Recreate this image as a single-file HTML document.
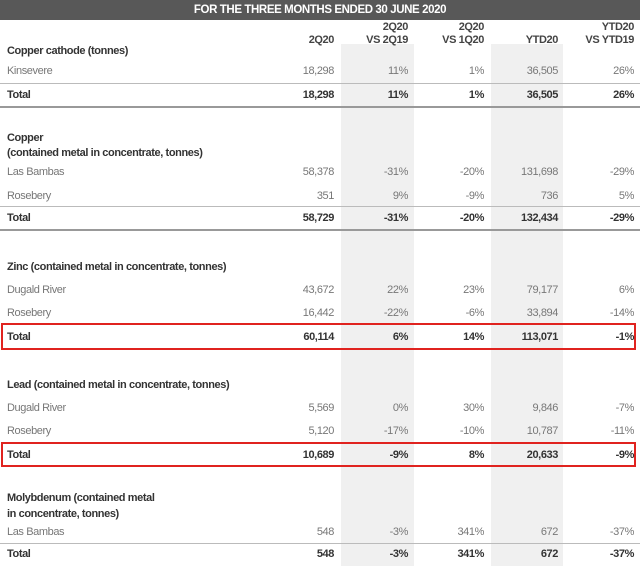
<!DOCTYPE html>
<html><head><meta charset="utf-8"><style>
body{margin:0;width:640px;height:566px;background:#fff;position:relative;overflow:hidden;font-family:"Liberation Sans",sans-serif;font-size:11px;color:#333;letter-spacing:-0.4px}
.hdr{position:absolute;left:0;top:0;width:640px;height:20px;background:#585858;color:#fff;font-weight:bold;text-align:center;line-height:20px;font-size:11.5px}
.sh{position:absolute;top:44px;height:522px;background:#f0f0f0}
.r{position:absolute;left:0;width:640px;height:14px;line-height:14px}
.r span{position:absolute;top:0;white-space:nowrap}
.l{left:7px}
.c1{right:306px}.c2{right:232px}.c3{right:156px}.c4{right:82px}.c5{right:6px}
.g{color:#777;font-weight:normal}
.b{font-weight:bold;color:#333}
.t{font-weight:bold;color:#333}
.ln{position:absolute;left:0;width:640px;height:1px;background:#bbb}
.box{position:absolute;left:1px;width:635px;border:2px solid #e0231f;box-sizing:border-box}
.h{position:absolute;font-weight:bold;color:#444;text-align:right;line-height:13px}
</style></head><body>
<div class="sh" style="left:341px;width:73px"></div>
<div class="sh" style="left:491px;width:72px"></div>
<div class="hdr">FOR THE THREE MONTHS ENDED 30 JUNE 2020</div>
<div class="h" style="right:306px;top:34px">2Q20</div>
<div class="h" style="right:232px;top:21px">2Q20<br>VS 2Q19</div>
<div class="h" style="right:156px;top:21px">2Q20<br>VS 1Q20</div>
<div class="h" style="right:82px;top:34px">YTD20</div>
<div class="h" style="right:6px;top:21px">YTD20<br>VS YTD19</div>

<div class="r t" style="top:44px"><span class="l">Copper cathode (tonnes)</span></div>
<div class="r g" style="top:64px"><span class="l">Kinsevere</span><span class="c1">18,298</span><span class="c2">11%</span><span class="c3">1%</span><span class="c4">36,505</span><span class="c5">26%</span></div>
<div class="ln" style="top:83px"></div>
<div class="r b" style="top:88px"><span class="l">Total</span><span class="c1">18,298</span><span class="c2">11%</span><span class="c3">1%</span><span class="c4">36,505</span><span class="c5">26%</span></div>
<div class="ln" style="top:106px;height:2px;background:#999"></div>

<div class="r t" style="top:131px"><span class="l">Copper</span></div>
<div class="r t" style="top:146px"><span class="l">(contained metal in concentrate, tonnes)</span></div>
<div class="r g" style="top:165px"><span class="l">Las Bambas</span><span class="c1">58,378</span><span class="c2">-31%</span><span class="c3">-20%</span><span class="c4">131,698</span><span class="c5">-29%</span></div>
<div class="r g" style="top:189px"><span class="l">Rosebery</span><span class="c1">351</span><span class="c2">9%</span><span class="c3">-9%</span><span class="c4">736</span><span class="c5">5%</span></div>
<div class="ln" style="top:206px"></div>
<div class="r b" style="top:211px"><span class="l">Total</span><span class="c1">58,729</span><span class="c2">-31%</span><span class="c3">-20%</span><span class="c4">132,434</span><span class="c5">-29%</span></div>
<div class="ln" style="top:229px;height:2px;background:#999"></div>

<div class="r t" style="top:260px"><span class="l">Zinc (contained metal in concentrate, tonnes)</span></div>
<div class="r g" style="top:283px"><span class="l">Dugald River</span><span class="c1">43,672</span><span class="c2">22%</span><span class="c3">23%</span><span class="c4">79,177</span><span class="c5">6%</span></div>
<div class="r g" style="top:306px"><span class="l">Rosebery</span><span class="c1">16,442</span><span class="c2">-22%</span><span class="c3">-6%</span><span class="c4">33,894</span><span class="c5">-14%</span></div>
<div class="box" style="top:323px;height:27px"></div>
<div class="r b" style="top:330px"><span class="l">Total</span><span class="c1">60,114</span><span class="c2">6%</span><span class="c3">14%</span><span class="c4">113,071</span><span class="c5">-1%</span></div>

<div class="r t" style="top:378px"><span class="l">Lead (contained metal in concentrate, tonnes)</span></div>
<div class="r g" style="top:401px"><span class="l">Dugald River</span><span class="c1">5,569</span><span class="c2">0%</span><span class="c3">30%</span><span class="c4">9,846</span><span class="c5">-7%</span></div>
<div class="r g" style="top:424px"><span class="l">Rosebery</span><span class="c1">5,120</span><span class="c2">-17%</span><span class="c3">-10%</span><span class="c4">10,787</span><span class="c5">-11%</span></div>
<div class="box" style="top:442px;height:25px"></div>
<div class="r b" style="top:448px"><span class="l">Total</span><span class="c1">10,689</span><span class="c2">-9%</span><span class="c3">8%</span><span class="c4">20,633</span><span class="c5">-9%</span></div>

<div class="r t" style="top:491px"><span class="l">Molybdenum (contained metal</span></div>
<div class="r t" style="top:507px"><span class="l">in concentrate, tonnes)</span></div>
<div class="r g" style="top:525px"><span class="l">Las Bambas</span><span class="c1">548</span><span class="c2">-3%</span><span class="c3">341%</span><span class="c4">672</span><span class="c5">-37%</span></div>
<div class="ln" style="top:543px"></div>
<div class="r b" style="top:547px"><span class="l">Total</span><span class="c1">548</span><span class="c2">-3%</span><span class="c3">341%</span><span class="c4">672</span><span class="c5">-37%</span></div>
</body></html>
